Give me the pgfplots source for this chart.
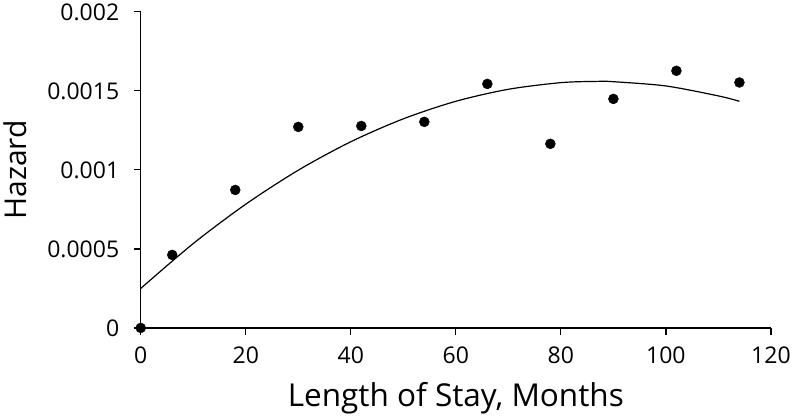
\documentclass[border=0pt]{standalone}
\usepackage{fontspec}
\setmainfont{Open Sans}
\usepackage{pgfplots}
\pgfplotsset{compat=1.18}

\begin{document}
\begin{tikzpicture}
\begin{axis}[
    scale only axis,
    width=630pt,
    height=316pt,
    xmin=0, xmax=120,
    ymin=0, ymax=0.002,
    clip=false,
    axis lines=left,
    axis line style={-, line width=1.3pt},
    tick align=outside,
    xtick pos=left, ytick pos=left,
    major tick length=7pt,
    every tick/.style={black, line width=1.2pt},
    xtick={0,20,40,60,80,100,120},
    xticklabels={0,20,40,60,80,100,120},
    ytick={0,0.0005,0.001,0.0015,0.002},
    yticklabels={0,0.0005,0.001,0.0015,0.002},
    scaled y ticks=false,
    xticklabel shift=8pt,
    yticklabel shift=11pt,
    tick label style={font=\fontsize{23}{28}\selectfont},
    xlabel style={font=\fontsize{31.5}{36}\selectfont},
    ylabel style={font=\fontsize{30}{36}\selectfont},
    xlabel={Length of Stay, Months},
    ylabel={Hazard},
    xlabel shift=12pt,
    ylabel shift=14pt,
]
% trend line (quadratic fit)
\addplot[black, line width=1.2pt, smooth] coordinates {
    (0,0.00025) (10,0.000534) (20,0.000783) (30,0.000998) (40,0.001178)
    (50,0.001323) (60,0.001434) (70,0.00151) (80,0.001552) (87,0.00156)
    (90,0.001558) (100,0.001531) (110,0.001468) (114,0.001434)
};
% observed hazard
\addplot[only marks, mark=*, mark size=5pt, black] coordinates {
    (0,0) (6,0.000462) (18,0.000873) (30,0.001272) (42,0.001278)
    (54,0.001304) (66,0.001544) (78,0.001165) (90,0.001449)
    (102,0.001627) (114,0.001553)
};
\end{axis}
\end{tikzpicture}
\end{document}
